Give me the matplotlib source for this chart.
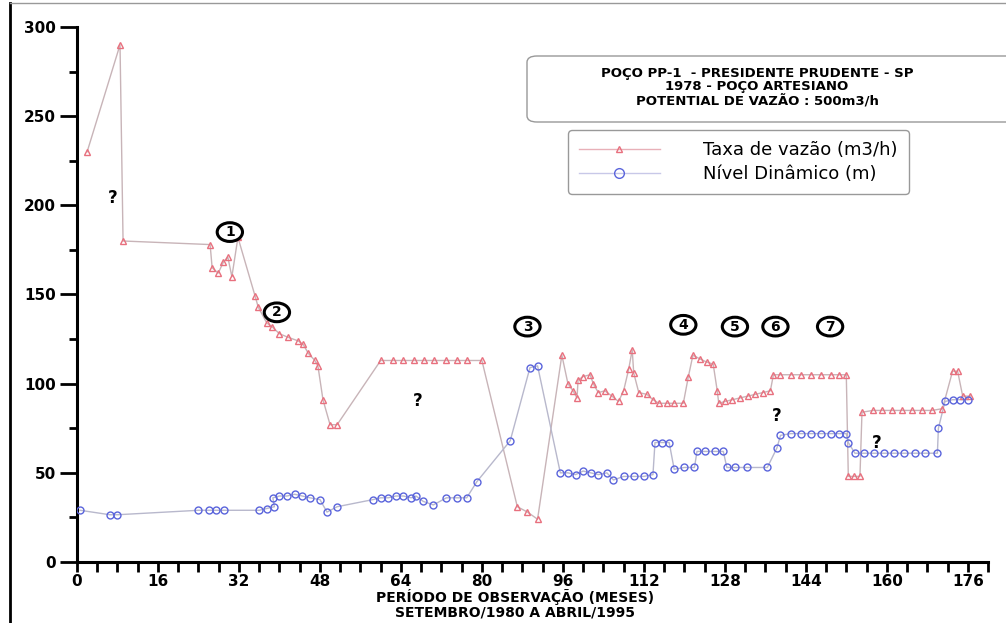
import numpy as np
import matplotlib.pyplot as plt
from matplotlib.ticker import MultipleLocator
from matplotlib.lines import Line2D
from matplotlib.patches import Ellipse, FancyBboxPatch

# Taxa de vazao (m3/h)
taxa_x = [2, 8.5, 9.1, 26.3, 26.7, 27.9, 28.9, 29.8, 30.6, 31.8, 35.2, 35.8, 37.5, 38.5, 40, 41.7,
          43.7, 44.7, 45.7, 47, 47.6, 48.6, 50, 51.4, 60, 62.5, 64.5, 66.5, 68.5, 70.5, 73, 75, 77, 80,
          87, 89, 91, 95.8, 97, 98, 98.8, 99, 100, 101.4, 102, 103, 104.3, 105.7, 107, 108, 109, 109.7,
          110, 111, 112.6, 113.8, 115, 116.5, 118, 119.8, 120.8, 121.7, 123, 124.5, 125.7, 126.5, 126.8,
          128, 129.5, 131, 132.5, 134, 135.5, 137, 137.6, 139, 141, 143, 145, 147, 149, 150.5, 152,
          152.4, 153.5, 154.7, 155.1, 157.3, 159, 161, 163, 165, 167, 169, 171, 173, 174, 175, 176.5]
taxa_y = [230, 290, 180, 178, 165, 162, 168, 171, 160, 182, 149, 143, 134, 132, 128, 126,
          124, 122, 117, 113, 110, 91, 77, 77, 113, 113, 113, 113, 113, 113, 113, 113, 113, 113,
          31, 28, 24, 116, 100, 96, 92, 102, 104, 105, 100, 95, 96, 93, 90, 96, 108, 119,
          106, 95, 94, 91, 89, 89, 89, 89, 104, 116, 114, 112, 111, 96, 89,
          90, 91, 92, 93, 94, 95, 96, 105, 105, 105, 105, 105, 105, 105, 105, 105,
          48, 48, 48, 84, 85, 85, 85, 85, 85, 85, 85, 86, 107, 107, 93, 93]

# Nivel dinamico (m)
nivel_x = [0.6, 6.5, 8, 24, 26, 27.5, 29, 36, 37.5, 39, 38.7, 40, 41.5, 43, 44.5, 46, 48, 49.4, 51.4,
           58.5, 60, 61.5, 63, 64.5, 66, 67, 68.4, 70.4, 73, 75, 77, 79, 85.6, 89.5, 91, 95.5, 97,
           98.5, 100, 101.5, 103, 104.7, 106, 108, 110, 112, 113.8, 114.2, 115.5, 117, 118, 120, 122,
           122.5, 124, 126, 127.7, 128.4, 130, 132.4, 136.4, 138.3, 139, 141, 143, 145, 147, 149,
           150.5, 152, 152.4, 153.7, 155.5, 157.5, 159.5, 161.5, 163.5, 165.5, 167.5, 170, 170.2,
           171.5, 173, 174.5, 176]
nivel_y = [29, 26.5, 26.5, 29, 29, 29, 29, 29, 30, 31, 36, 37, 37, 38, 37, 36, 35, 28, 31,
           35, 36, 36, 37, 37, 36, 37, 34, 32, 36, 36, 36, 45, 68, 109, 110, 50, 50,
           49, 51, 50, 49, 50, 46, 48, 48, 48, 49, 67, 67, 67, 52, 53, 53,
           62, 62, 62, 62, 53, 53, 53, 53, 64, 71, 72, 72, 72, 72, 72,
           72, 72, 67, 61, 61, 61, 61, 61, 61, 61, 61, 61, 75,
           90, 91, 91, 91]

# circled event numbers and question marks
event_labels = ['1', '2', '3', '4', '5', '6', '7']
event_x = [30.2, 39.5, 89, 119.8, 130, 138, 148.8]
event_y = [185, 140, 132, 133, 132, 132, 132]
quest_x = [7, 67.4, 138.3, 158]
quest_y = [204, 90, 82, 67]

fig = plt.figure(figsize=(10.06, 6.23), dpi=100)
ax = fig.add_axes([77/1006, 1-562/623, 911/1006, 535/623])

ax.plot(taxa_x, taxa_y, '-', color='#c8b4b8', lw=1, zorder=2)
ax.plot(taxa_x, taxa_y, '^', mfc='none', mec='#e8707e', ms=5, mew=1, zorder=3)
ax.plot(nivel_x, nivel_y, '-', color='#b8b8cc', lw=1, zorder=2)
ax.plot(nivel_x, nivel_y, 'o', mfc='none', mec='#5a64dc', ms=5, mew=1, zorder=3)

ax.set_xlim(0, 180)
ax.set_ylim(0, 300)
ax.xaxis.set_major_locator(MultipleLocator(16))
ax.xaxis.set_minor_locator(MultipleLocator(4))
ax.yaxis.set_major_locator(MultipleLocator(50))
ax.yaxis.set_minor_locator(MultipleLocator(25))
ax.spines['top'].set_visible(False)
ax.spines['right'].set_visible(False)
ax.spines['left'].set_linewidth(2.2)
ax.spines['bottom'].set_linewidth(2.2)
ax.tick_params(axis='x', which='both', direction='out', length=7, width=2, labelsize=11, pad=2)
ax.tick_params(axis='y', which='major', direction='out', length=12, width=2, labelsize=11, pad=3)
ax.tick_params(axis='y', which='minor', direction='out', length=6, width=2)
for lab in ax.get_xticklabels() + ax.get_yticklabels():
    lab.set_fontweight('bold')

for s, x, y in zip(event_labels, event_x, event_y):
    ax.add_patch(Ellipse((x, y), 5.0, 10.5, fc='white', ec='black', lw=2.2, zorder=4))
    ax.text(x, y, s, ha='center', va='center', fontsize=10, fontweight='bold', zorder=5)
for x, y in zip(quest_x, quest_y):
    ax.text(x, y, '?', ha='center', va='center', fontsize=12, fontweight='bold')

# title box
fig.add_artist(FancyBboxPatch((527/1006, 1-122/623), 490/1006, 66/623,
                              boxstyle='round,pad=0,rounding_size=0.01',
                              fc='white', ec='#999999', lw=1, transform=fig.transFigure))
fig.text(757/1006, 1-87/623,
         'POÇO PP-1  - PRESIDENTE PRUDENTE - SP\n1978 - POÇO ARTESIANO\nPOTENTIAL DE VAZÃO : 500m3/h',
         ha='center', va='center', fontsize=9.5, fontweight='bold', linespacing=1.05)

# legend
h1 = Line2D([], [], color='#e8b0b8', lw=1, marker='^', mfc='none', mec='#e8707e', ms=5)
h2 = Line2D([], [], color='#c8c8e8', lw=1, marker='o', mfc='none', mec='#5a64dc', ms=7)
leg = fig.legend([h1, h2], ['Taxa de vazão (m3/h)', 'Nível Dinâmico (m)'],
                 loc='upper left', bbox_to_anchor=(568/1006, 1-130/623), borderaxespad=0,
                 fontsize=13, handlelength=4.5, handletextpad=2.4, borderpad=0.6,
                 labelspacing=0.35, fancybox=True, framealpha=1, edgecolor='#999999')
leg.get_frame().set_linewidth(1)

fig.text(515/1006, 1-597/623, 'PERÍODO DE OBSERVAÇÃO (MESES)', ha='center', va='center',
         fontsize=10, fontweight='bold')
fig.text(515/1006, 1-613/623, 'SETEMBRO/1980 A ABRIL/1995', ha='center', va='center',
         fontsize=10, fontweight='bold')

# scan frame
fig.add_artist(Line2D([10/1006, 10/1006], [0, 0.995], color='black', lw=2))
fig.add_artist(Line2D([10/1006, 1], [0.995, 0.995], color='#999999', lw=1))

plt.savefig('out.png')
